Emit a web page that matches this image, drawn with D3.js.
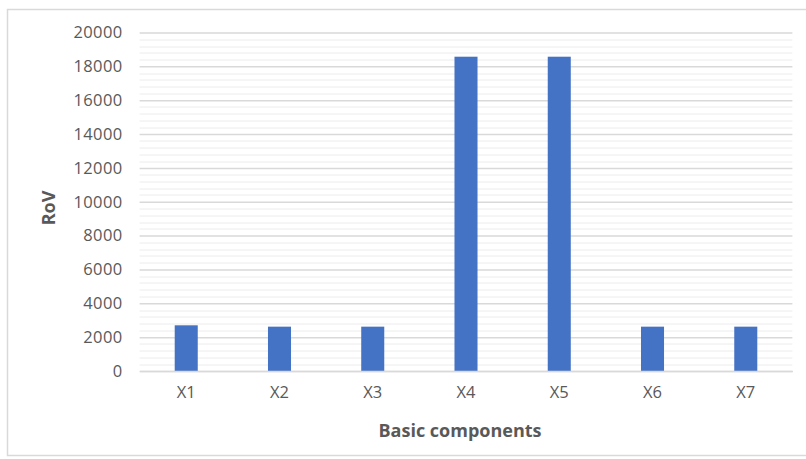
<!DOCTYPE html>
<html>
<head>
<meta charset="utf-8">
<script src="https://cdn.jsdelivr.net/npm/d3@7"></script>
<style>
  html, body { margin: 0; padding: 0; background: #fff; }
  svg { display: block; }
  text { font-family: "Open Sans", "Noto Sans", sans-serif; }
</style>
</head>
<body>
<svg id="chart" width="806" height="459"></svg>
<script>
// Chart data
const categories = ["X1", "X2", "X3", "X4", "X5", "X6", "X7"];
const rovValues = [2700, 2620, 2620, 18570, 18570, 2620, 2620];
const yTicks = [0, 2000, 4000, 6000, 8000, 10000, 12000, 14000, 16000, 18000, 20000];
const xTitle = "Basic components";
const yTitle = "RoV";

const svg = d3.select("#chart");
const W = 806, H = 459;
const margin = { left: 139.6, right: 806 - 792.4, top: 32.5, bottom: 459 - 371 };
const plotW = W - margin.left - margin.right;
const plotH = H - margin.top - margin.bottom;

// Outer chart frame
svg.append("rect")
  .attr("x", 7.5).attr("y", 9.5)
  .attr("width", 806).attr("height", 446)
  .attr("fill", "#fff").attr("stroke", "#d9d9d9").attr("stroke-width", 1.5);

const g = svg.append("g").attr("transform", `translate(${margin.left},${margin.top})`);

const x = d3.scaleBand().domain(categories).range([0, plotW]).paddingInner(0.753).paddingOuter(0.3765);
const y = d3.scaleLinear().domain([0, 20000]).range([plotH, 0]);

// Minor gridlines every 400
const minor = d3.range(0, 20001, 400).filter(v => v % 2000 !== 0);
g.append("g").selectAll("line").data(minor).join("line")
  .attr("x1", 0).attr("x2", plotW)
  .attr("y1", d => Math.round(y(d)) + 0.5).attr("y2", d => Math.round(y(d)) + 0.5)
  .attr("stroke", "#ececec").attr("stroke-width", 1);

// Major gridlines + tick labels via axis
const yAxis = d3.axisLeft(y).tickValues(yTicks).tickSize(-plotW).tickPadding(17).tickFormat(d3.format("d"));
const ya = g.append("g").call(yAxis);
ya.select(".domain").remove();
ya.selectAll(".tick line").attr("stroke", "#d9d9d9").attr("stroke-width", 1.5);
ya.selectAll(".tick text").attr("fill", "#595959").style("font-size", "16.5px").style("letter-spacing", "0.4px");

// Bars
g.append("g").selectAll("rect").data(categories).join("rect")
  .attr("x", d => x(d))
  .attr("width", x.bandwidth())
  .attr("y", (d, i) => y(rovValues[i]))
  .attr("height", (d, i) => plotH - y(rovValues[i]))
  .attr("fill", "#4472c4");

// Category axis
const xAxis = d3.axisBottom(x).tickSize(0).tickPadding(15);
const xa = g.append("g").attr("transform", `translate(0,${plotH})`).call(xAxis);
xa.select(".domain").attr("stroke", "#d9d9d9").attr("stroke-width", 1.5);
xa.selectAll(".tick text").attr("fill", "#595959").style("font-size", "16.5px");

// Axis titles
svg.append("text")
  .attr("x", margin.left + plotW / 2 - 6).attr("y", 437)
  .attr("text-anchor", "middle")
  .attr("fill", "#595959").style("font-size", "18px").style("font-weight", "bold")
  .text(xTitle);

svg.append("text")
  .attr("transform", `translate(55,208) rotate(-90)`)
  .attr("text-anchor", "middle")
  .attr("fill", "#595959").style("font-size", "18px").style("font-weight", "bold")
  .text(yTitle);
</script>
</body>
</html>
